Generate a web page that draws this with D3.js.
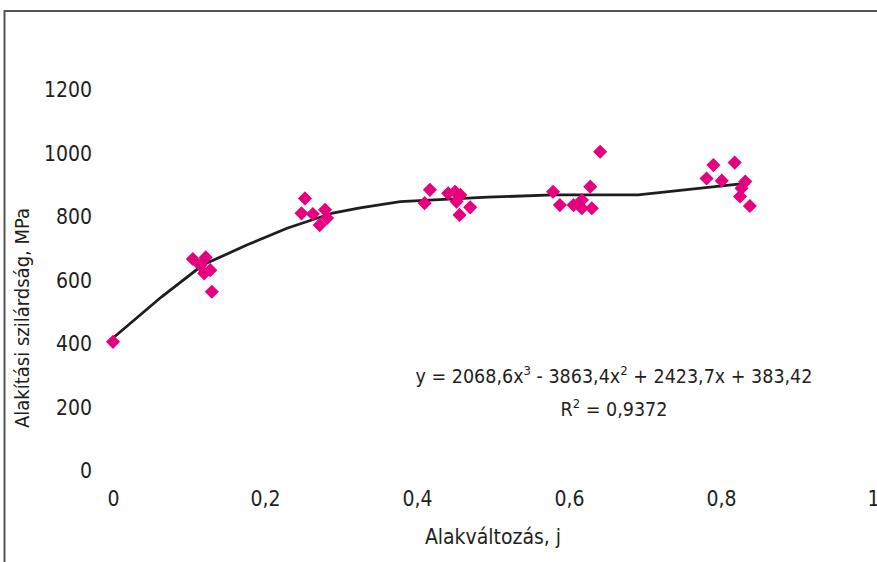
<!DOCTYPE html>
<html>
<head>
<meta charset="utf-8">
<script src="https://cdn.jsdelivr.net/npm/d3@7"></script>
<style>
  body { margin: 0; background: #fff; }
  svg text { font-family: "DejaVu Sans", sans-serif; font-stretch: condensed; fill: #231f20; }
</style>
</head>
<body>
<div id="chart"></div>
<script>
// measured points: deformation vs flow stress
var strain = [0.0, 0.105, 0.115, 0.122, 0.12, 0.128, 0.13,
              0.2526, 0.248, 0.263, 0.279, 0.272, 0.2816,
              0.417, 0.41, 0.441, 0.45, 0.457, 0.452, 0.47, 0.456,
              0.579, 0.588, 0.606, 0.617, 0.617, 0.628, 0.63, 0.641,
              0.79, 0.818, 0.781, 0.801, 0.832, 0.827, 0.825, 0.838];
var stress = [404, 665, 645, 670, 620, 630, 562,
              856, 809, 807, 820, 772, 794,
              883, 841, 872, 877, 867, 846, 828, 804,
              877, 835, 835, 851, 825, 893, 825, 1003,
              961, 969, 919, 912, 909, 888, 862, 832];

// trend line vertices as drawn
var fit_x = [0.002, 0.064, 0.118, 0.176, 0.229, 0.289, 0.325, 0.378, 0.493, 0.579, 0.691, 0.838];
var fit_y = [420, 546, 646, 709, 762, 810, 826, 846, 860, 867, 867, 905];

var x_ticks = [0, 0.2, 0.4, 0.6, 0.8, 1];
var y_ticks = [0, 200, 400, 600, 800, 1000, 1200];

var W = 877, H = 562;
var svg = d3.select("#chart").append("svg").attr("width", W).attr("height", H);

// outer frame (right and bottom run off the picture)
svg.append("rect")
  .attr("x", 4.5).attr("y", 11)
  .attr("width", W + 10).attr("height", H + 10)
  .attr("fill", "none")
  .attr("stroke", "#555")
  .attr("stroke-width", 2);

var scalex = d3.scaleLinear().domain([0, 1]).range([113, 873]);
var scaley = d3.scaleLinear().domain([0, 1200]).range([470, 89.3]);

var hu = d3.formatLocale({decimal: ",", thousands: "", grouping: [3], currency: ["", ""]});

var x_axis = d3.axisBottom(scalex).tickValues(x_ticks).tickSize(0).tickPadding(0)
  .tickFormat(function (d) { return d === 0 || d === 1 ? String(d) : hu.format(".1f")(d); });
var y_axis = d3.axisLeft(scaley).tickValues(y_ticks).tickSize(0).tickPadding(0)
  .tickFormat(function (d) { return String(d); });

var gx = svg.append("g").attr("transform", "translate(0, 491)").call(x_axis);
var gy = svg.append("g").attr("transform", "translate(92, 0)").call(y_axis);
gx.select(".domain").remove();
gy.select(".domain").remove();
svg.selectAll(".tick text")
  .attr("font-family", null)
  .style("font-size", "21px")
  .attr("fill", "#231f20");
gy.selectAll(".tick text").attr("dy", "0.36em");
gx.selectAll(".tick text").attr("dy", "0.71em");

// trend line
var points = fit_x.map(function (v, i) { return [v, fit_y[i]]; });
svg.append("path")
  .datum(points)
  .attr("d", d3.line()
    .x(function (d) { return scalex(d[0]); })
    .y(function (d) { return scaley(d[1]); }))
  .attr("fill", "none")
  .attr("stroke", "#1e1e1e")
  .attr("stroke-width", 2.8);

// diamonds
var diamond = d3.symbol().type(d3.symbolSquare).size(100);
svg.selectAll("path.pt")
  .data(strain.map(function (v, i) { return [v, stress[i]]; }))
  .enter()
  .append("path")
  .attr("class", "pt")
  .attr("d", diamond)
  .attr("transform", function (d) { return "translate(" + scalex(d[0]) + "," + scaley(d[1]) + ") rotate(45)"; })
  .attr("fill", "#e6007e");

// equation
var eq = svg.append("text").attr("x", 614).attr("y", 383)
  .attr("text-anchor", "middle")
  .style("font-size", "19.5px");
eq.append("tspan").text("y = 2068,6x");
eq.append("tspan").attr("font-size", "13px").attr("dy", -8).text("3");
eq.append("tspan").attr("dy", 8).text(" - 3863,4x");
eq.append("tspan").attr("font-size", "13px").attr("dy", -8).text("2");
eq.append("tspan").attr("dy", 8).text(" + 2423,7x + 383,42");

var r2 = svg.append("text").attr("x", 614).attr("y", 416)
  .attr("text-anchor", "middle")
  .style("font-size", "19.5px");
r2.append("tspan").text("R");
r2.append("tspan").attr("font-size", "13px").attr("dy", -8).text("2");
r2.append("tspan").attr("dy", 8).text(" = 0,9372");

// axis titles
svg.append("text")
  .attr("x", 493).attr("y", 544)
  .attr("text-anchor", "middle")
  .style("font-size", "21px")
  .text("Alakváltozás, j");

svg.append("text")
  .attr("transform", "translate(29, 318) rotate(-90)")
  .attr("text-anchor", "middle")
  .style("font-size", "20px")
  .text("Alakítási szilárdság, MPa");
</script>
</body>
</html>
